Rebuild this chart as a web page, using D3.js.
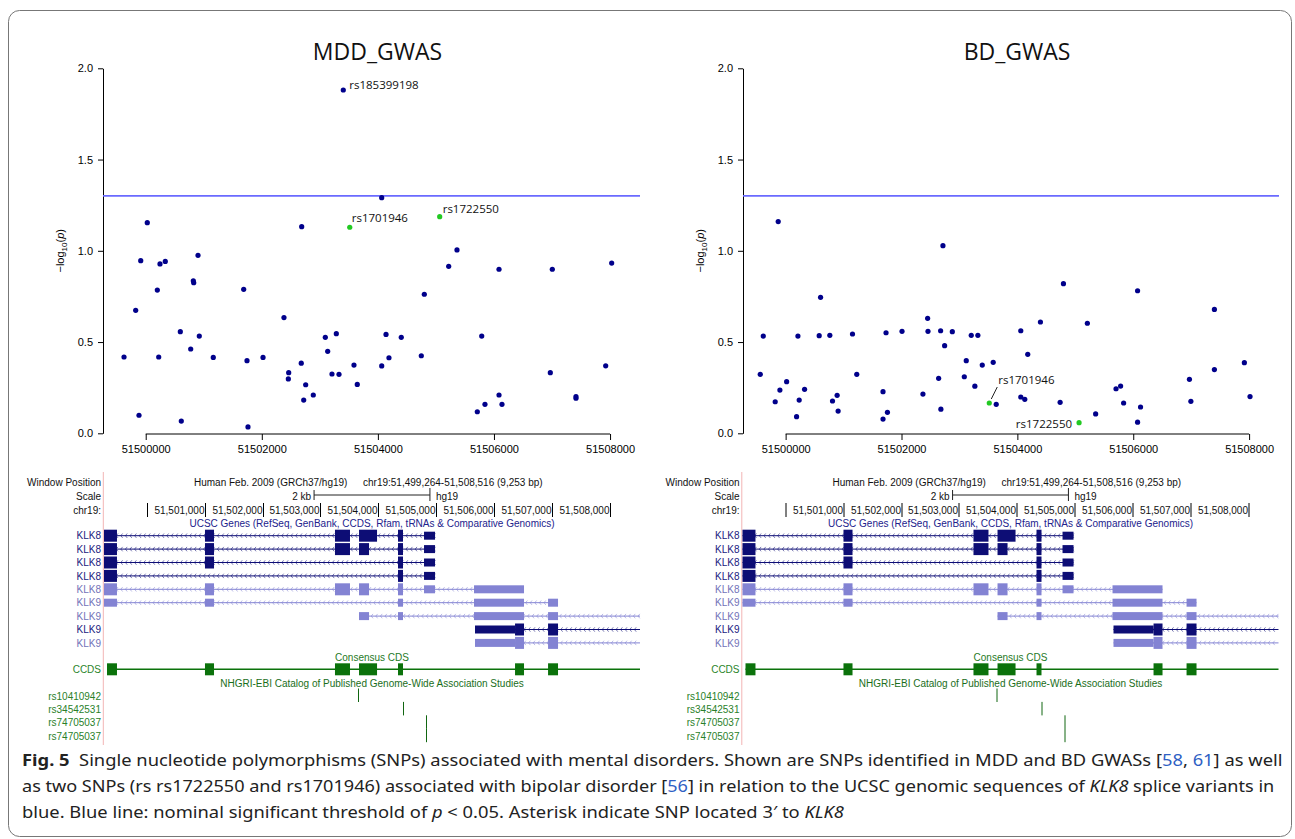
<!DOCTYPE html>
<html>
<head>
<meta charset="utf-8">
<script src="https://cdn.jsdelivr.net/npm/d3@7"></script>
<style>
body { margin: 0; background: #fff; }
text { white-space: pre; }
</style>
</head>
<body>
<div id="fig"></div>
<script>
var svgWidth = 1295;
var svgHeight = 839;

// genomic window shown in both panels (hg19)
var windowStart = 51499264;
var windowEnd = 51508516;

// MDD GWAS: SNP position (bp) and -log10(p)
var mddPos = [51499626, 51499827, 51499884, 51499914, 51500027, 51500200, 51500224, 51500246, 51500337, 51500596,
	51500613, 51500775, 51500820, 51500827, 51500901, 51500923, 51501164, 51501688, 51501745, 51501762,
	51502021, 51502382, 51502463, 51502457, 51502680, 51502687, 51502722, 51502756, 51502887, 51503094,
	51503135, 51503209, 51503284, 51503330, 51503404, 51503588, 51503645, 51504066, 51504066, 51504140,
	51504191, 51504403, 51504748, 51504800, 51505220, 51505363, 51505713, 51505789, 51505845, 51506087,
	51506087, 51506138, 51506971, 51507005, 51507413, 51507413, 51507925, 51508028];
var mddLogP = [0.418, 0.674, 0.099, 0.946, 1.154, 0.785, 0.418, 0.928, 0.942, 0.557,
	0.067, 0.462, 0.836, 0.825, 0.975, 0.533, 0.416, 0.789, 0.398, 0.035,
	0.416, 0.634, 0.332, 0.298, 0.384, 1.132, 0.182, 0.266, 0.210, 0.526,
	0.449, 0.325, 0.546, 0.323, 1.881, 0.374, 0.268, 1.291, 0.369, 0.542,
	0.414, 0.526, 0.425, 0.762, 0.915, 1.005, 0.118, 0.533, 0.159, 0.899,
	0.210, 0.159, 0.332, 0.899, 0.201, 0.192, 0.370, 0.933];

// BD GWAS
var bdPos = [51499562, 51499614, 51499820, 51499872, 51499901, 51500017, 51500189, 51500212, 51500234, 51500327,
	51500579, 51500603, 51500763, 51500809, 51500889, 51500906, 51501154, 51501228, 51501681, 51501681,
	51501733, 51501757, 51502009, 51502370, 51502451, 51502457, 51502641, 51502675, 51502680, 51502715,
	51502744, 51502877, 51503084, 51503118, 51503204, 51503266, 51503318, 51503394, 51503583, 51503635,
	51504059, 51504059, 51504128, 51504179, 51504398, 51504738, 51504795, 51505208, 51505351, 51505703,
	51505782, 51505834, 51506075, 51506075, 51506126, 51506970, 51506995, 51507401, 51507401, 51507918,
	51508016];
var bdLogP = [0.323, 0.533, 0.173, 1.160, 0.237, 0.283, 0.091, 0.533, 0.182, 0.241,
	0.535, 0.745, 0.537, 0.177, 0.208, 0.122, 0.544, 0.323, 0.228, 0.078,
	0.551, 0.115, 0.559, 0.215, 0.630, 0.559, 0.301, 0.562, 0.132, 1.028,
	0.480, 0.557, 0.310, 0.398, 0.537, 0.258, 0.537, 0.374, 0.389, 0.159,
	0.562, 0.199, 0.186, 0.433, 0.610, 0.170, 0.820, 0.603, 0.106, 0.244,
	0.259, 0.166, 0.781, 0.061, 0.144, 0.296, 0.175, 0.679, 0.349, 0.387,
	0.201];

// bipolar disorder candidate SNPs (green)
var candidateIds = ["rs1701946", "rs1722550"];
var candidatePos = [51503515, 51505065];
var mddCandidateLogP = [1.129, 1.187];
var bdCandidateLogP = [0.166, 0.058];

// strongest MDD SNP
var topHitId = "rs185399198";

var yTicks = [0, 0.5, 1.0, 1.5, 2.0];
var xTicks = [51500000, 51502000, 51504000, 51506000, 51508000];
var thresholdP = 0.05;

// UCSC browser tracks
var rulerTicks = [51500000, 51501000, 51502000, 51503000, 51504000, 51505000, 51506000, 51507000, 51508000];
var transcriptNames = ["KLK8", "KLK8", "KLK8", "KLK8", "KLK8", "KLK9", "KLK9", "KLK9", "KLK9"];
var transcriptDark = [true, true, true, true, false, false, false, true, false];
var transcriptSpans = [
	[51499264, 51504978], [51499264, 51504978], [51499264, 51504978], [51499264, 51504978],
	[51499264, 51506514], [51499264, 51507101], [51503666, 51508516], [51505668, 51508516], [51505668, 51508516]
];
// exons: [start, end, coding?]
var transcriptExons = [
	[[51499264, 51499488, 1], [51501007, 51501163, 1], [51503251, 51503510, 1], [51503666, 51503977, 1], [51504339, 51504425, 1], [51504788, 51504978, 0]],
	[[51499264, 51499488, 1], [51501007, 51501163, 1], [51503251, 51503510, 1], [51503666, 51503839, 1], [51504339, 51504425, 1], [51504788, 51504978, 0]],
	[[51499264, 51499488, 1], [51501007, 51501163, 1], [51504339, 51504425, 1], [51504788, 51504978, 0]],
	[[51499264, 51499488, 1], [51504339, 51504425, 1], [51504788, 51504978, 0]],
	[[51499264, 51499488, 1], [51501007, 51501163, 1], [51503251, 51503510, 1], [51503666, 51503839, 1], [51504339, 51504425, 1], [51504788, 51504978, 0], [51505651, 51506514, 0]],
	[[51499264, 51499488, 0], [51501007, 51501163, 0], [51504339, 51504425, 0], [51505651, 51506514, 0], [51506929, 51507101, 0]],
	[[51503666, 51503839, 0], [51504339, 51504425, 0], [51505651, 51506514, 0], [51506929, 51507101, 0]],
	[[51505668, 51506359, 0], [51506359, 51506514, 1], [51506929, 51507101, 1]],
	[[51505668, 51506359, 0], [51506359, 51506514, 1], [51506929, 51507101, 1]]
];
var ccdsSpan = [51499316, 51508516];
var ccdsExons = [[51499316, 51499488], [51501007, 51501163], [51503251, 51503510], [51503666, 51503977],
	[51504339, 51504425], [51506359, 51506514], [51506929, 51507101]];
var catalogIds = ["rs10410942", "rs34542531", "rs74705037", "rs74705037"];
var catalogPos = [51503654, 51504431, 51504817, 51504817];

var navy = "#00008b";
var green = "#22c922";
var geneDark = "#0d0d75";
var geneLight = "#8383d3";
var ccdsGreen = "#0b720b";
var uiFont = "'Liberation Sans', Arial, sans-serif";
var labelFont = "'Open Sans', 'Noto Sans', sans-serif";

var svg = d3.select("#fig")
	.append("svg")
	.attr("width", svgWidth)
	.attr("height", svgHeight);

svg.append("rect")
	.attr("x", 8.5).attr("y", 10.5)
	.attr("width", 1283).attr("height", 826)
	.attr("rx", 11)
	.attr("fill", "#fff")
	.attr("stroke", "#777");

// ---------- scatter panels ----------
function drawScatter(left, right, title, pos, logp, candLogP, placements) {
	var g = svg.append("g");
	var x = d3.scaleLinear().domain([windowStart, windowEnd]).range([left, right]);
	var y = d3.scaleLinear().domain([0, 2]).range([433.3, 68.3]);

	g.append("text")
		.attr("x", (left + right) / 2 + 6)
		.attr("y", 60)
		.attr("text-anchor", "middle")
		.style("font-family", labelFont)
		.style("font-size", "23px")
		.attr("fill", "#111")
		.text(title);

	var leftAxis = d3.axisLeft(y).tickValues(yTicks).tickFormat(d3.format(".1f"))
		.tickSize(5).tickSizeOuter(0).tickPadding(5);
	var yAxis = g.append("g")
		.attr("transform", `translate(${left}, 0)`)
		.call(leftAxis);

	var bottomAxis = d3.axisBottom(x).tickValues(xTicks).tickFormat(d3.format("d"))
		.tickSize(6).tickPadding(5);
	var xAxis = g.append("g")
		.attr("transform", `translate(0, 434)`)
		.call(bottomAxis);
	xAxis.select(".domain").remove();
	xAxis.append("line")
		.attr("x1", x(xTicks[0])).attr("x2", x(xTicks[xTicks.length - 1]))
		.attr("stroke", "#000");

	[yAxis, xAxis].forEach(function(a) {
		a.selectAll("text").style("font-family", uiFont).style("font-size", "11px").attr("fill", "#000");
	});

	var yl = g.append("text")
		.attr("transform", `translate(${left - 39}, ${y(1)}) rotate(-90)`)
		.attr("text-anchor", "middle")
		.style("font-family", uiFont)
		.style("font-size", "11px");
	yl.append("tspan").text("\u2212log");
	yl.append("tspan").attr("dy", 3).style("font-size", "8px").text("10");
	yl.append("tspan").attr("dy", -3).text("(");
	yl.append("tspan").style("font-style", "italic").text("p");
	yl.append("tspan").text(")");

	g.append("line")
		.attr("x1", left).attr("x2", right)
		.attr("y1", y(-Math.log10(thresholdP))).attr("y2", y(-Math.log10(thresholdP)))
		.attr("stroke", "#6a6aff")
		.attr("stroke-width", 1.6);

	g.selectAll("circle.snp")
		.data(pos.map(function(p, i) { return {pos: p, v: logp[i]}; }))
		.enter()
		.append("circle")
		.attr("class", "snp")
		.attr("cx", d => x(d.pos))
		.attr("cy", d => y(d.v))
		.attr("r", 2.6)
		.attr("fill", navy);

	var cand = candidateIds.map(function(id, i) { return {id: id, pos: candidatePos[i], v: candLogP[i]}; });
	g.selectAll("circle.cand")
		.data(cand)
		.enter()
		.append("circle")
		.attr("class", "cand")
		.attr("cx", d => x(d.pos))
		.attr("cy", d => y(d.v))
		.attr("r", 2.6)
		.attr("fill", green);

	var labelled = cand.slice();
	if (placements[topHitId]) {
		var k = d3.maxIndex(logp);
		labelled.push({id: topHitId, pos: pos[k], v: logp[k]});
	}
	labelled.forEach(function(d) {
		var pl = placements[d.id];
		var px = x(d.pos), py = y(d.v);
		if (pl.leader) {
			g.append("line")
				.attr("x1", px + 2).attr("y1", py - 4)
				.attr("x2", px + 8).attr("y2", py - 16)
				.attr("stroke", "#222");
		}
		g.append("text")
			.attr("x", px + pl.dx)
			.attr("y", py + pl.dy)
			.attr("text-anchor", pl.anchor)
			.style("font-family", labelFont)
			.style("font-size", "11.5px")
			.attr("fill", "#111")
			.text(d.id);
	});
}

drawScatter(103, 640, "MDD_GWAS", mddPos, mddLogP, mddCandidateLogP, {
	rs185399198: {dx: 6, dy: -1, anchor: "start"},
	rs1701946: {dx: 2, dy: -5.5, anchor: "start"},
	rs1722550: {dx: 3, dy: -3.5, anchor: "start"}
});
drawScatter(743, 1279, "BD_GWAS", bdPos, bdLogP, bdCandidateLogP, {
	rs1701946: {dx: 9, dy: -19, anchor: "start", leader: true},
	rs1722550: {dx: -7, dy: 5.5, anchor: "end"}
});

// ---------- UCSC genome browser panels ----------
function drawBrowser(shift) {
	var g = svg.append("g").attr("transform", `translate(${shift}, 0)`);
	var x = d3.scaleLinear().domain([windowStart, windowEnd]).range([104, 640]);
	var fmt = d3.format(",");
	var mid = (104 + 640) / 2;

	function txt(tx, ty, s, anchor, color) {
		return g.append("text")
			.attr("x", tx).attr("y", ty)
			.attr("text-anchor", anchor || "start")
			.style("font-family", uiFont)
			.style("font-size", "10px")
			.attr("fill", color || "#111")
			.text(s);
	}

	g.append("line")
		.attr("x1", 103.3).attr("x2", 103.3)
		.attr("y1", 472).attr("y2", 745)
		.attr("stroke", "#f2b4b4");

	txt(101, 486, "Window Position", "end");
	txt(101, 499.6, "Scale", "end");
	txt(101, 514.3, "chr19:", "end");
	txt(194, 486, "Human Feb. 2009 (GRCh37/hg19)");
	txt(363, 486, "chr19:" + fmt(windowStart) + "-" + fmt(windowEnd) + " (" + fmt(windowEnd - windowStart + 1) + " bp)");

	// 2 kb scale bar centred on window
	var c = (windowStart + windowEnd) / 2;
	var s0 = x(c - 1000), s1 = x(c + 1000);
	g.append("line").attr("x1", s0).attr("x2", s1).attr("y1", 495).attr("y2", 495).attr("stroke", "#222");
	g.append("line").attr("x1", s0).attr("x2", s0).attr("y1", 490).attr("y2", 500).attr("stroke", "#222");
	g.append("line").attr("x1", s1).attr("x2", s1).attr("y1", 488).attr("y2", 501).attr("stroke", "#222");
	txt(s0 - 3, 499.6, "2 kb", "end");
	txt(s1 + 6, 499.6, "hg19");

	rulerTicks.forEach(function(t, i) {
		var tx = Math.round(x(t)) + 0.5;
		g.append("line").attr("x1", tx).attr("x2", tx).attr("y1", 503).attr("y2", 517).attr("stroke", "#000");
		if (i > 0) txt(tx - 1, 514.3, fmt(t), "end");
	});

	txt(mid, 527, "UCSC Genes (RefSeq, GenBank, CCDS, Rfam, tRNAs & Comparative Genomics)", "middle", "#22228c");

	transcriptNames.forEach(function(name, i) {
		var cy = 535.7 + i * 13.4;
		var col = transcriptDark[i] ? geneDark : geneLight;
		txt(101, cy + 3.6, name, "end", transcriptDark[i] ? "#1a1a80" : "#7272b8");
		var a = x(transcriptSpans[i][0]), b = x(transcriptSpans[i][1]);
		g.append("line").attr("x1", a).attr("x2", b).attr("y1", cy).attr("y2", cy)
			.attr("stroke", col).attr("stroke-width", 1);
		// strand chevrons (minus strand)
		var path = "";
		for (var cx = a + 3; cx < b - 1; cx += 4.6) {
			path += `M${cx + 1.8},${cy - 2.2}L${cx},${cy}L${cx + 1.8},${cy + 2.2}`;
		}
		g.append("path").attr("d", path).attr("fill", "none")
			.attr("stroke", col).attr("stroke-width", 0.7).attr("opacity", 0.8);
		g.selectAll(null)
			.data(transcriptExons[i])
			.enter()
			.append("rect")
			.attr("x", d => x(d[0]))
			.attr("width", d => Math.max(1, x(d[1]) - x(d[0])))
			.attr("y", d => d[2] ? cy - 6 : cy - 4)
			.attr("height", d => d[2] ? 12 : 8)
			.attr("fill", col);
	});

	// CCDS track
	txt(mid, 661, "Consensus CDS", "middle", "#1f7a1f");
	txt(101, 673, "CCDS", "end", "#2a852a");
	var ccy = 669.3;
	g.append("line").attr("x1", x(ccdsSpan[0])).attr("x2", x(ccdsSpan[1]))
		.attr("y1", ccy).attr("y2", ccy).attr("stroke", ccdsGreen).attr("stroke-width", 1.5);
	g.selectAll(null)
		.data(ccdsExons)
		.enter()
		.append("rect")
		.attr("x", d => x(d[0]))
		.attr("width", d => x(d[1]) - x(d[0]))
		.attr("y", ccy - 6)
		.attr("height", 12)
		.attr("fill", ccdsGreen);

	// GWAS catalog track
	txt(mid, 687, "NHGRI-EBI Catalog of Published Genome-Wide Association Studies", "middle", "#1a6e1a");
	catalogIds.forEach(function(id, i) {
		var cy = 696 + i * 13.4;
		txt(101, cy + 3.6, id, "end", "#2a7f2a");
		var tx = Math.round(x(catalogPos[i])) + 0.5;
		g.append("line").attr("x1", tx).attr("x2", tx)
			.attr("y1", cy - 7.5).attr("y2", cy + 6)
			.attr("stroke", "#116611");
	});
}

drawBrowser(0);
drawBrowser(638.5);

// ---------- caption ----------
var captionLines = [
	[{t: "Fig. 5", b: true}, {t: "  Single nucleotide polymorphisms (SNPs) associated with mental disorders. Shown are SNPs identified in MDD and BD GWASs ["},
		{t: "58", link: true}, {t: ", "}, {t: "61", link: true}, {t: "] as well"}],
	[{t: "as two SNPs (rs rs1722550 and rs1701946) associated with bipolar disorder ["}, {t: "56", link: true},
		{t: "] in relation to the UCSC genomic sequences of "}, {t: "KLK8", i: true}, {t: " splice variants in"}],
	[{t: "blue. Blue line: nominal significant threshold of "}, {t: "p", i: true}, {t: " < 0.05. Asterisk indicate SNP located 3\u2032 to "},
		{t: "KLK8", i: true}]
];
var captionTargets = [1261, 1253, null];
var captionBase = [766, 792, 818];
var firstScale = 1;

captionLines.forEach(function(parts, li) {
	var grp = svg.append("g");
	var t = grp.append("text")
		.style("font-family", "'Noto Sans', sans-serif")
		.style("font-size", "16px")
		.attr("fill", "#222");
	parts.forEach(function(p) {
		t.append("tspan")
			.style("font-weight", p.b ? "bold" : "normal")
			.style("font-style", p.i ? "italic" : "normal")
			.attr("fill", p.link ? "#2f5fc4" : "#222")
			.text(p.t);
	});
	var len = t.node().getComputedTextLength();
	var sc = captionTargets[li] ? captionTargets[li] / len : firstScale;
	if (li === 0) firstScale = sc;
	grp.attr("transform", `translate(22, ${captionBase[li]}) scale(${sc}, 1)`);
});
</script>
</body>
</html>
